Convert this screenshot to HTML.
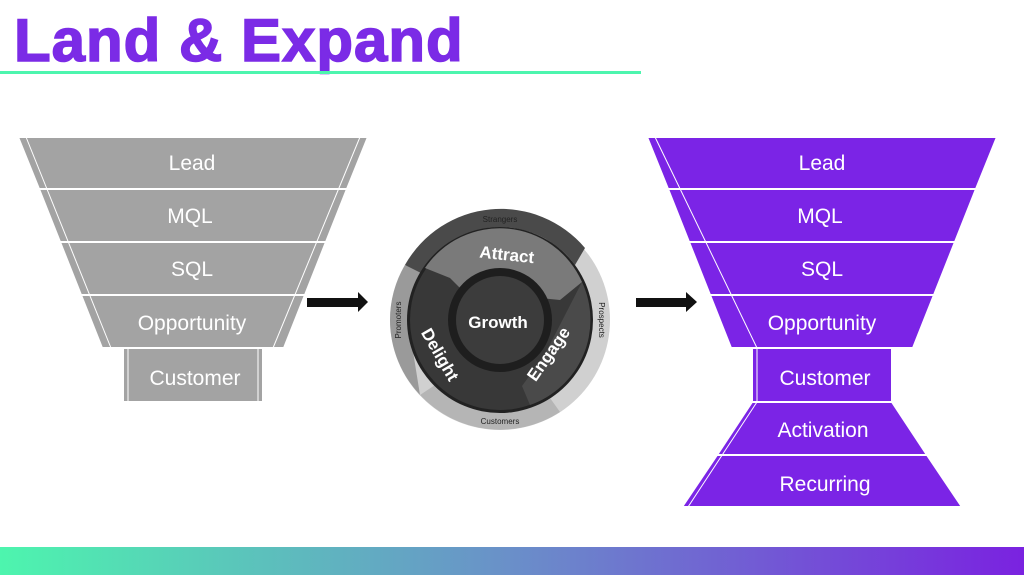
<!DOCTYPE html>
<html><head><meta charset="utf-8"><style>
html,body{margin:0;padding:0;width:1024px;height:575px;overflow:hidden;background:#fff}
</style></head><body>
<svg width="1024" height="575" viewBox="0 0 1024 575" xmlns="http://www.w3.org/2000/svg" font-family="Liberation Sans, sans-serif">
<defs>
<linearGradient id="g" x1="0" x2="1" y1="0" y2="0"><stop offset="0" stop-color="#4df5ae"/><stop offset="0.5" stop-color="#6a8fc9"/><stop offset="1" stop-color="#7a22e0"/></linearGradient>
</defs>
<text x="14" y="61" font-size="60" font-weight="bold" fill="#7b2be6" stroke="#7b2be6" stroke-width="1.5" letter-spacing="1">Land &amp; Expand</text>
<rect x="0" y="71" width="641" height="3" fill="#4df5ae"/>
<rect x="0" y="547" width="1024" height="28" fill="url(#g)"/>

<!-- left funnel -->
<g fill="#a3a3a3" stroke="#fff" stroke-width="2">
<polygon points="18,137 368,137 347,189 39,189"/>
<polygon points="39,189 347,189 326,242 60,242"/>
<polygon points="60,242 326,242 305,295 81,295"/>
<polygon points="81,295 305,295 284,348 102,348"/>
<rect x="123" y="348" width="140" height="54"/>
</g>
<g stroke="#fff" stroke-width="1" fill="none">
<line x1="26" y1="137" x2="111" y2="348"/><line x1="360" y1="137" x2="273" y2="348"/>
<line x1="128" y1="348" x2="128" y2="402"/><line x1="258" y1="348" x2="258" y2="402"/>
</g>
<g fill="#fff" font-size="21" text-anchor="middle">
<text x="192" y="170">Lead</text><text x="190" y="223">MQL</text><text x="192" y="276">SQL</text>
<text x="192" y="330">Opportunity</text><text x="195" y="385">Customer</text>
</g>

<!-- arrows -->
<polygon points="307,298 358,298 358,292 368,302 358,312 358,307 307,307" fill="#111"/>
<polygon points="636,298 686,298 686,292 697,302 686,312 686,307 636,307" fill="#111"/>

<!-- flywheel -->
<g transform="translate(500,320)">
<circle r="110" fill="#d0d0d0"/>
<path d="M -95 -55 A 110 110 0 0 1 85 -72 L 75 -55 A 92 92 0 0 0 -80 -45 Z" fill="#4a4a4a"/>
<path d="M -110 0 A 110 110 0 0 1 -95 -55 L -75 -45 A 92 92 0 0 0 -92 0 Z" fill="#9a9a9a"/>
<path d="M -80 75 A 110 110 0 0 1 -110 0 L -92 0 Z" fill="#9a9a9a"/>
<path d="M -80 75 A 110 110 0 0 0 60 92 L 50 78 A 92 92 0 0 1 -65 65 Z" fill="#b5b5b5"/>
<circle r="93" fill="#222"/>
<circle r="90" fill="#383838"/>
<path d="M -75 -52 A 90 90 0 0 1 82 -38 L 60 -20 L 40 -22 A 50 50 0 0 0 -38 -30 L -50 -42 Z" fill="#7a7a7a"/>
<path d="M 82 -38 A 90 90 0 0 1 30 85 L 22 66 L 44 36 Z" fill="#4a4a4a"/>
<circle r="52" fill="#1e1e1e"/>
<circle r="44" fill="#3c3c3c"/>
<text x="-2" y="8" fill="#fff" font-size="17" font-weight="bold" text-anchor="middle">Growth</text>
<text x="0" y="-60" fill="#fff" font-size="17" font-weight="bold" text-anchor="middle" transform="rotate(6)">Attract</text>
<text x="0" y="0" fill="#fff" font-size="17" font-weight="bold" text-anchor="middle" transform="rotate(-55) translate(0,65)">Engage</text>
<text x="0" y="0" fill="#fff" font-size="17" font-weight="bold" text-anchor="middle" transform="rotate(60) translate(0,75)">Delight</text>
<text x="0" y="-98" fill="#222" font-size="8" text-anchor="middle">Strangers</text>
<text x="0" y="104" fill="#222" font-size="8" text-anchor="middle">Customers</text>
<text x="0" y="0" fill="#222" font-size="8" text-anchor="middle" transform="rotate(90) translate(0,-99)">Prospects</text>
<text x="0" y="0" fill="#222" font-size="8" text-anchor="middle" transform="rotate(-90) translate(0,-99)">Promoters</text>
</g>

<!-- right funnel -->
<g fill="#7b24e6" stroke="#fff" stroke-width="2">
<polygon points="647,137 997,137 976,189 668,189"/>
<polygon points="668,189 976,189 955,242 689,242"/>
<polygon points="689,242 955,242 934,295 710,295"/>
<polygon points="710,295 934,295 913,348 731,348"/>
<rect x="752" y="348" width="140" height="54"/>
<polygon points="752,402 892,402 927,455 717,455"/>
<polygon points="717,455 927,455 962,507 682,507"/>
</g>
<g stroke="#fff" stroke-width="1" fill="none">
<line x1="655" y1="137" x2="757" y2="348"/><line x1="757" y1="348" x2="757" y2="402"/>
<line x1="757" y1="402" x2="688" y2="507"/>
</g>
<g fill="#fff" font-size="21" text-anchor="middle">
<text x="822" y="170">Lead</text><text x="820" y="223">MQL</text><text x="822" y="276">SQL</text>
<text x="822" y="330">Opportunity</text><text x="825" y="385">Customer</text>
<text x="823" y="437">Activation</text><text x="825" y="491">Recurring</text>
</g>
</svg>
</body></html>
